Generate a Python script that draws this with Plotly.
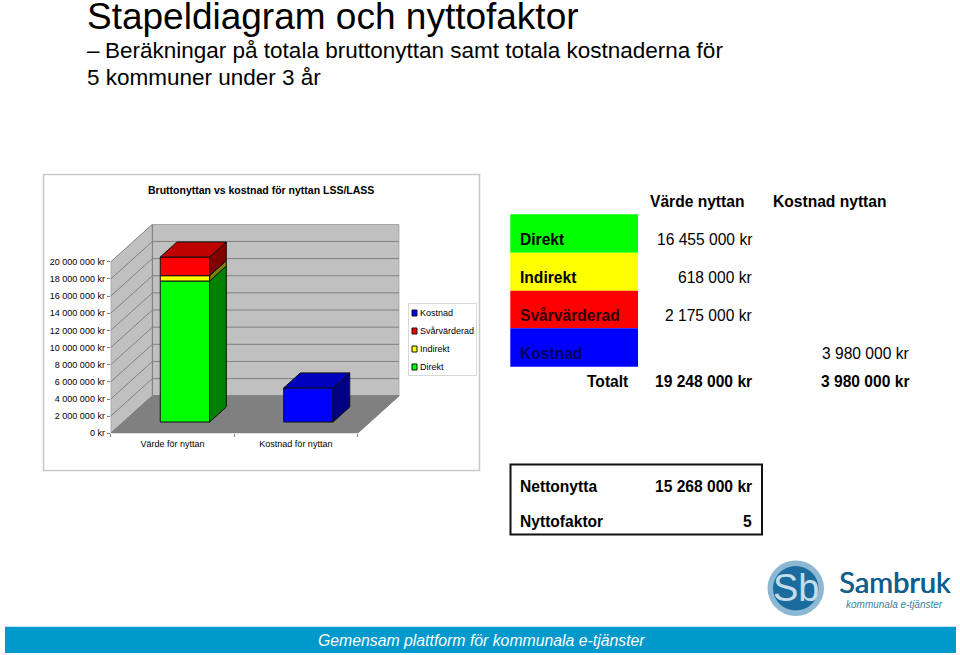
import plotly.graph_objects as go

W, H = 960, 655

# chart data
categories = ['Värde för nyttan', 'Kostnad för nyttan']
direkt = [16455000, None]
indirekt = [618000, None]
svarvarderad = [2175000, None]
kostnad = [None, 3980000]
y_ticks = [0, 2000000, 4000000, 6000000, 8000000, 10000000, 12000000, 14000000, 16000000, 18000000, 20000000]
y_labels = ['0 kr', '2 000 000 kr', '4 000 000 kr', '6 000 000 kr', '8 000 000 kr', '10 000 000 kr',
            '12 000 000 kr', '14 000 000 kr', '16 000 000 kr', '18 000 000 kr', '20 000 000 kr']
legend_names = ['Kostnad', 'Svårvärderad', 'Indirekt', 'Direkt']

# table text
table_rows = ['Direkt', 'Indirekt', 'Svårvärderad', 'Kostnad']
table_colors = ['#00FF00', '#FFFF00', '#FF0000', '#0000FF']
varde_col = ['16 455 000 kr', '618 000 kr', '2 175 000 kr', '']
kostnad_col = ['', '', '', '3 980 000 kr']
total_varde = '19 248 000 kr'
total_kostnad = '3 980 000 kr'
netto = '15 268 000 kr'
nyttofaktor = '5'

SANS = 'Liberation Sans, Arial, sans-serif'

# fake 3d: how far the back wall sits from the front plane, in axis units
WALL_DX = 0.338
WALL_DY = 4380000
BAR_W = 0.4
BAR_FRONT = 0.3   # share of the depth in front of the bar
BAR_DEPTH = 0.4   # share of the depth the bar takes
X_MAX = 2 + WALL_DX
Y_MAX = 20000000 + WALL_DY


def px(x):
    return x / W


def py(y):
    return 1 - y / H


def poly(points):
    return 'M ' + ' L '.join(f'{x} {y}' for x, y in points) + ' Z'


def text(x, y, s, size=15.6, bold=False, anchor='left', color='black', family=SANS, italic=False, shadow=None):
    if bold:
        s = f'<b>{s}</b>'
    if italic:
        s = f'<i>{s}</i>'
    x = x - 1.5 if anchor == 'left' else (x + 1 if anchor == 'right' else x)
    font = dict(size=size, color=color, family=family)
    if shadow:
        font['shadow'] = shadow
    fig.add_annotation(x=px(x), y=py(y), xref='paper', yref='paper', text=s, showarrow=False,
                       xanchor=anchor, yanchor='middle', borderpad=0, font=font)


def rect(x0, y0, x1, y1, fill='rgba(0,0,0,0)', line=None, width=1):
    fig.add_shape(type='rect', xref='paper', yref='paper', x0=px(x0), x1=px(x1), y0=py(y0), y1=py(y1),
                  fillcolor=fill, line=dict(color=line, width=width if line else 0))


fig = go.Figure()

# walls and floor
wall_line = dict(color='#808080', width=1)
walls = [
    ([(0, 0), (WALL_DX, WALL_DY), (WALL_DX, Y_MAX), (0, 20000000)], '#C0C0C0'),
    ([(WALL_DX, WALL_DY), (X_MAX, WALL_DY), (X_MAX, Y_MAX), (WALL_DX, Y_MAX)], '#C0C0C0'),
    ([(0, 0), (2, 0), (X_MAX, WALL_DY), (WALL_DX, WALL_DY)], '#808080'),
]
for pts, col in walls:
    fig.add_shape(type='path', xref='x', yref='y', path=poly(pts), fillcolor=col, line=wall_line, layer='below')
for v in y_ticks[1:-1]:
    fig.add_shape(type='path', xref='x', yref='y', layer='below', line=wall_line,
                  path=f'M 0 {v} L {WALL_DX} {v + WALL_DY} L {X_MAX} {v + WALL_DY}')

# bars, front faces
dx0, dy0 = WALL_DX * BAR_FRONT, WALL_DY * BAR_FRONT
dx1, dy1 = WALL_DX * BAR_DEPTH, WALL_DY * BAR_DEPTH
centers = [0.5 + dx0, 1.5 + dx0]
series = [
    (direkt, '#00FF00', '#008000', '#00BF00'),
    (indirekt, '#FFFF00', '#808000', '#BFBF00'),
    (svarvarderad, '#FF0000', '#800000', '#BF0000'),
    (kostnad, '#0000FF', '#000080', '#0000BF'),
]
stack = [dy0, dy0]
for vals, front, side, top in series:
    fig.add_trace(go.Bar(x=centers, y=vals, base=stack[:], width=BAR_W, marker_color=front,
                         marker_line=dict(color='#101010', width=1), showlegend=False))
    for i, v in enumerate(vals):
        if v is None:
            continue
        xr = centers[i] + BAR_W / 2
        side_pts = [(xr, stack[i]), (xr + dx1, stack[i] + dy1), (xr + dx1, stack[i] + v + dy1), (xr, stack[i] + v), (xr, stack[i])]
        fig.add_trace(go.Scatter(x=[p[0] for p in side_pts], y=[p[1] for p in side_pts], fill='toself', mode='lines',
                                 fillcolor=side, line=dict(color='#101010', width=1), showlegend=False))
        stack[i] += v
for i in range(2):
    xl, xr = centers[i] - BAR_W / 2, centers[i] + BAR_W / 2
    top_col = '#BF0000' if i == 0 else '#0000BF'
    top_pts = [(xl, stack[i]), (xr, stack[i]), (xr + dx1, stack[i] + dy1), (xl + dx1, stack[i] + dy1), (xl, stack[i])]
    fig.add_trace(go.Scatter(x=[p[0] for p in top_pts], y=[p[1] for p in top_pts], fill='toself', mode='lines',
                             fillcolor=top_col, line=dict(color='#101010', width=1), showlegend=False))

fig.update_layout(
    width=W, height=H, margin=dict(l=0, r=0, t=0, b=0, autoexpand=False), paper_bgcolor='white',
    plot_bgcolor='rgba(0,0,0,0)', barmode='overlay', hovermode=False,
    xaxis=dict(domain=[px(110.7), px(399.3)], range=[0, X_MAX], showgrid=False, zeroline=False, showline=False,
               tickvals=[0.5, 1.5], ticktext=categories, ticks='', ticklabelstandoff=4, automargin=False,
               tickfont=dict(size=9, family=SANS, color='black'),
               minor=dict(tickvals=[0, 1, 2], ticks='outside', ticklen=3, tickcolor='#808080')),
    yaxis=dict(domain=[py(433.3), py(224.3)], range=[0, Y_MAX], showgrid=False, zeroline=False, showline=False,
               tickvals=y_ticks, ticktext=y_labels, ticks='outside', ticklen=3, tickcolor='#808080', automargin=False,
               tickfont=dict(size=9, family=SANS, color='black')),
)

# slide title
text(87, 17, 'Stapeldiagram och nyttofaktor', size=37)
text(87, 50, '–', size=22.5)
text(105, 50, 'Beräkningar på totala bruttonyttan samt totala kostnaderna för', size=22.5)
text(87, 77, '5 kommuner under 3 år', size=22.5)

# chart frame, title and legend
rect(43.5, 174.5, 479.5, 470.5, line='#C8C8C8', width=1.5)
text(261, 190, 'Bruttonyttan vs kostnad för nyttan LSS/LASS', size=10.5, bold=True, anchor='center')
rect(408.5, 303.5, 476.5, 375.5, line='#D8D8D8', width=1)
for i, name in enumerate(legend_names):
    yc = 313 + i * 18
    rect(412, yc - 3, 417, yc + 3, fill=table_colors[::-1][i], line='#101010', width=1)
    text(420, yc, name, size=9)

# table
text(743.5, 201, 'Värde nyttan', size=15.6, bold=True, anchor='right')
text(886.5, 201, 'Kostnad nyttan', size=15.6, bold=True, anchor='right')
edges = [214.3, 252.7, 290.7, 328.3, 366.7]
row_y = [239, 277, 315, 353]
for i, name in enumerate(table_rows):
    rect(510.3, edges[i], 638, edges[i + 1], fill=table_colors[i])
    text(520.5, row_y[i], name, bold=True, color='#000000' if i < 2 else ('#300000' if i == 2 else '#000060'))
    if varde_col[i]:
        text(752, row_y[i], varde_col[i], anchor='right')
    if kostnad_col[i]:
        text(909, row_y[i], kostnad_col[i], anchor='right')
text(628, 381, 'Totalt', bold=True, anchor='right')
text(752, 381, total_varde, bold=True, anchor='right')
text(909, 381, total_kostnad, bold=True, anchor='right')

# net box
rect(510.5, 464.5, 762, 534.5, line='#111111', width=2)
text(520.5, 486, 'Nettonytta', bold=True)
text(752, 486, netto, bold=True, anchor='right')
text(520.5, 521, 'Nyttofaktor', bold=True)
text(752, 521, nyttofaktor, bold=True, anchor='right')

# logo
fig.add_shape(type='circle', xref='paper', yref='paper', x0=px(767.5), x1=px(824), y0=py(560.5), y1=py(616),
              fillcolor='#8DB8D3', line=dict(width=0))
fig.add_shape(type='circle', xref='paper', yref='paper', x0=px(773), x1=px(818.5), y0=py(566), y1=py(610.5),
              fillcolor='#1B6C9E', line=dict(width=0))
text(795.5, 588, 'Sb', size=38, anchor='center', color='#C5DCEA', family=SANS)
text(839, 581.5, 'Sambruk', size=29, color='#0E5F8D', family='Lato, ' + SANS, shadow='0.6px 0 0 #0E5F8D')
text(846, 604, 'kommunala e-tjänster', size=10, color='#3B7FA6', italic=True)

# footer
rect(5, 626.7, 956, 653, fill='#0099CC')
text(318, 640.5, 'Gemensam plattform för kommunala e-tjänster', size=15.8, italic=True, color='white')

fig.write_html('out.html', config={'displayModeBar': False},
               post_script="document.body.style.margin='0';document.body.style.overflow='hidden';")
